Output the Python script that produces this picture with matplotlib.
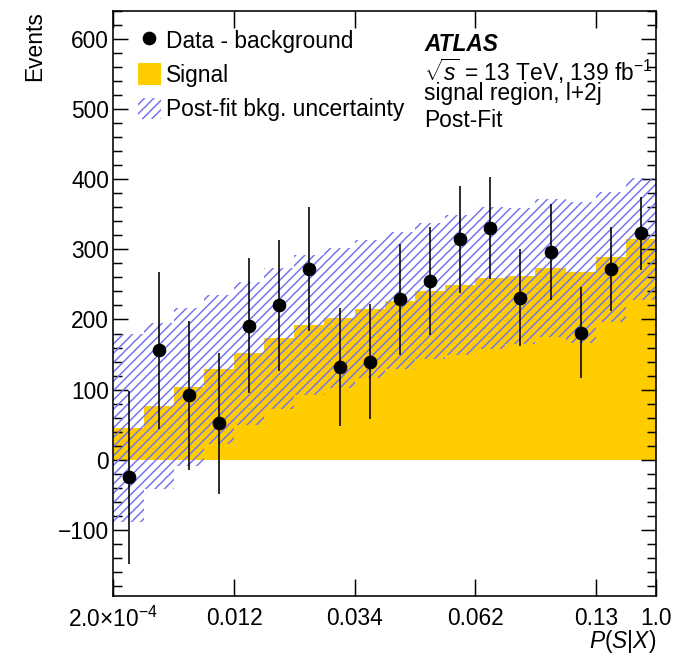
import numpy as np
import matplotlib
matplotlib.use("Agg")
import matplotlib.pyplot as plt
from matplotlib.ticker import MultipleLocator, FixedLocator, FixedFormatter
from matplotlib.lines import Line2D
from matplotlib.patches import Patch

# ---------------- data ----------------
tick_edges = [0, 4, 8, 12, 16, 18]
tick_labels = [r"$2.0{\times}10^{-4}$", "0.012", "0.034", "0.062", "0.13", "1.0"]

signal = [45, 77, 104, 129, 152, 173, 192, 202, 215, 227, 240, 249, 259, 262, 273, 267, 289, 315]
bkg_unc = [134, 118, 113, 106, 102, 100, 100, 100, 98, 98, 97, 100, 101, 97, 98, 100, 92, 87]
data_minus_bkg = [-25, 156, 92, 52, 191, 220, 272, 132, 140, 229, 255, 314, 330, 231, 296, 181, 272, 323]
data_err = [123, 112, 106, 100, 96, 93, 89, 84, 82, 79, 77, 76, 73, 69, 68, 65, 60, 52]

# ---------------- style ----------------
DPI = 84
W, H = 679, 654
plt.rcParams['font.family'] = ['Liberation Sans', 'DejaVu Sans']
plt.rcParams['mathtext.fontset'] = 'custom'
plt.rcParams['mathtext.rm'] = 'Liberation Sans'
plt.rcParams['mathtext.it'] = 'Liberation Sans:italic'
plt.rcParams['mathtext.bf'] = 'Liberation Sans:bold'

px = 72.0 / DPI  # points per pixel
plt.rcParams['hatch.linewidth'] = 1.5 * px
FS = 22.7 * px

fig = plt.figure(figsize=(W / DPI, H / DPI), dpi=DPI)
ax_l, ax_r, ax_t, ax_b = 113.5, 656, 10.7, 596
ax = fig.add_axes([ax_l / W, 1 - ax_b / H, (ax_r - ax_l) / W, (ax_b - ax_t) / H])

nb = len(signal)
edges = np.arange(nb + 1)
centers = edges[:-1] + 0.5
sig = np.array(signal, float)
unc = np.array(bkg_unc, float)

YEL = '#FFCC00'
HATCH = '#7474f0'
HPAT = '///'

ax.stairs(sig, edges, baseline=0, fill=True, color=YEL, linewidth=0, zorder=1)
ax.stairs(sig + unc, edges, baseline=sig - unc, fill=True, facecolor='none',
          edgecolor=HATCH, hatch=HPAT, linewidth=0, zorder=2)
ax.errorbar(centers, data_minus_bkg, yerr=data_err, fmt='o', color='black',
            ms=12.5 * px, elinewidth=1.6 * px, capsize=0, zorder=3)

ax.set_xlim(0, nb)
ax.set_ylim(-194, 640)

# ticks
ax.xaxis.set_major_locator(FixedLocator(tick_edges))
ax.xaxis.set_major_formatter(FixedFormatter(tick_labels))
ax.yaxis.set_major_locator(MultipleLocator(100))
ax.yaxis.set_minor_locator(MultipleLocator(20))
ax.tick_params(axis='x', which='major', direction='in', top=True, bottom=True,
               length=17 * px, width=1.5 * px, labelsize=FS, pad=11 * px)
ax.tick_params(axis='x', which='minor', bottom=False, top=False)
ax.tick_params(axis='y', which='major', direction='in', left=True, right=True,
               length=15 * px, width=1.5 * px, labelsize=FS, pad=4.5 * px)
ax.tick_params(axis='y', which='minor', direction='in', left=True, right=True,
               length=9 * px, width=1.5 * px)
for s in ax.spines.values():
    s.set_linewidth(1.6 * px)

ax.set_ylabel('Events', fontsize=FS, loc='top')
ax.yaxis.set_label_coords((46.5 - ax_l) / (ax_r - ax_l), 1.0)
ax.set_xlabel(r'$P(S|X)$', fontsize=FS, loc='right')
ax.xaxis.set_label_coords(1.0, -0.055)

# legend
handles = [
    Line2D([], [], marker='o', color='black', linestyle='none', ms=12.5 * px),
    Patch(facecolor=YEL, edgecolor='none'),
    Patch(facecolor='none', edgecolor=HATCH, hatch=HPAT, linewidth=0),
]
labels = ['Data - background', 'Signal', 'Post-fit bkg. uncertainty']
leg = ax.legend(handles, labels, loc='upper left',
                bbox_to_anchor=((138 - ax_l) / (ax_r - ax_l), 1 - (29 - ax_t) / (ax_b - ax_t)),
                frameon=False, fontsize=FS, borderpad=0, borderaxespad=0,
                handlelength=1.0, handleheight=1.1, handletextpad=0.22,
                labelspacing=0.47)

# ATLAS label block
def ay(ypix):
    return (ax_b - ypix) / (ax_b - ax_t)
tx = (424 - ax_l) / (ax_r - ax_l)
ax.text(tx, ay(50.7), 'ATLAS', transform=ax.transAxes, fontsize=FS,
        fontweight='bold', fontstyle='italic', va='baseline', ha='left')
ax.text(tx, ay(80.5), r'$\sqrt{s}$ = 13 TeV, 139 fb$^{\mathregular{-1}}$', transform=ax.transAxes,
        fontsize=FS, va='baseline', ha='left')
ax.text(tx, ay(100), 'signal region, l+2j', transform=ax.transAxes,
        fontsize=FS, va='baseline', ha='left')
ax.text(tx, ay(127), 'Post-Fit', transform=ax.transAxes,
        fontsize=FS, va='baseline', ha='left')

fig.savefig('out.png', dpi=DPI)
